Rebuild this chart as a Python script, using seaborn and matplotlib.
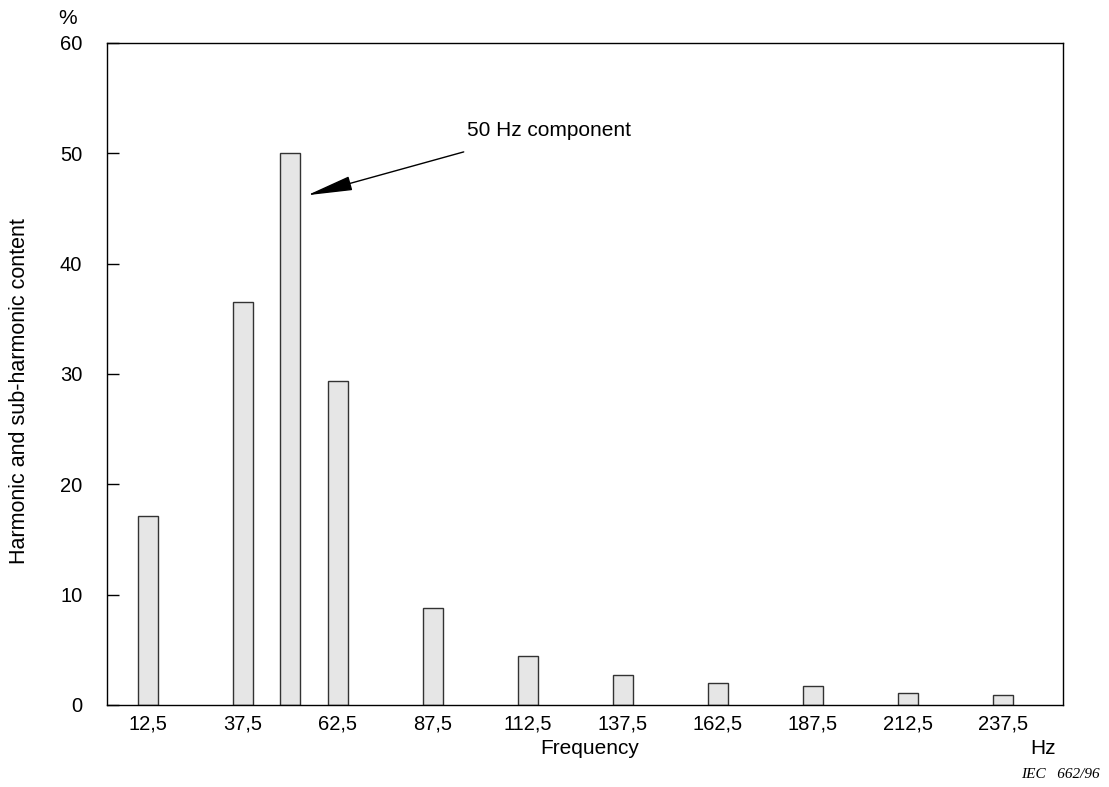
import seaborn as sns
import matplotlib.pyplot as plt
import pandas as pd

# harmonic and sub-harmonic content
frequencies = [12.5, 37.5, 50.0, 62.5, 87.5, 112.5, 137.5, 162.5, 187.5, 212.5, 237.5]
content = [17.1, 36.5, 50.0, 29.4, 8.8, 4.4, 2.7, 2.0, 1.7, 1.1, 0.9]
tick_freqs = [12.5, 37.5, 62.5, 87.5, 112.5, 137.5, 162.5, 187.5, 212.5, 237.5]
tick_labels = ['12,5', '37,5', '62,5', '87,5', '112,5', '137,5', '162,5', '187,5', '212,5', '237,5']
y_ticks = [0, 10, 20, 30, 40, 50, 60]

sns.set_theme(style="white")
plt.rcParams['font.family'] = ['Liberation Sans', 'DejaVu Sans']
plt.rcParams['text.color'] = 'black'

df = pd.DataFrame({'freq': frequencies, 'content': content})

fig = plt.figure(figsize=(11.09, 7.87), dpi=100)
ax = fig.add_axes([0.0968, 0.1042, 0.8620, 0.8412])

sns.barplot(data=df, x='freq', y='content', native_scale=True, width=0.42,
            color='#e6e6e6', saturation=1, edgecolor='#333333', linewidth=1,
            errorbar=None, ax=ax)

ax.set_xlim(1.9, 253.4)
ax.set_ylim(0, 60)
ax.set_xticks(tick_freqs)
ax.set_xticklabels(tick_labels)
ax.set_yticks(y_ticks)
ax.tick_params(axis='x', length=0, pad=7, labelsize=14.5, labelcolor='black')
ax.tick_params(axis='y', direction='in', length=8.5, width=1, pad=18,
               labelsize=14.5, labelcolor='black', color='black', left=True)
for side in ['left', 'right', 'top', 'bottom']:
    ax.spines[side].set_visible(True)
    ax.spines[side].set_color('black')
    ax.spines[side].set_linewidth(1)

ax.set_xlabel('')
ax.set_ylabel('')
fs = 15
fig.text(590 / 1109, 1 - 748 / 787, 'Frequency', ha='center', va='center', fontsize=fs)
fig.text(1043 / 1109, 1 - 748 / 787, 'Hz', ha='center', va='center', fontsize=fs)
fig.text(68 / 1109, 1 - 19 / 787, '%', ha='center', va='center', fontsize=fs)
fig.text(20 / 1109, 1 - 391 / 787, 'Harmonic and sub-harmonic content', rotation=90,
         ha='center', va='center', fontsize=15.5)
fig.text(1100 / 1109, 1 - 775 / 787, 'IEC   662/96', ha='right', va='center',
         fontsize=11, style='italic', family=['Liberation Serif', 'DejaVu Serif'])

ax.annotate('50 Hz component', xy=(54.5, 46.2), xytext=(467 / 1109, 1 - 131 / 787),
            textcoords='figure fraction', ha='left', va='center', fontsize=fs,
            arrowprops=dict(arrowstyle='-|>,head_length=1.9,head_width=0.3',
                            color='black', lw=1, shrinkA=0, shrinkB=0,
                            relpos=(-0.02, -0.6)))

fig.savefig('out.png', dpi=100)
